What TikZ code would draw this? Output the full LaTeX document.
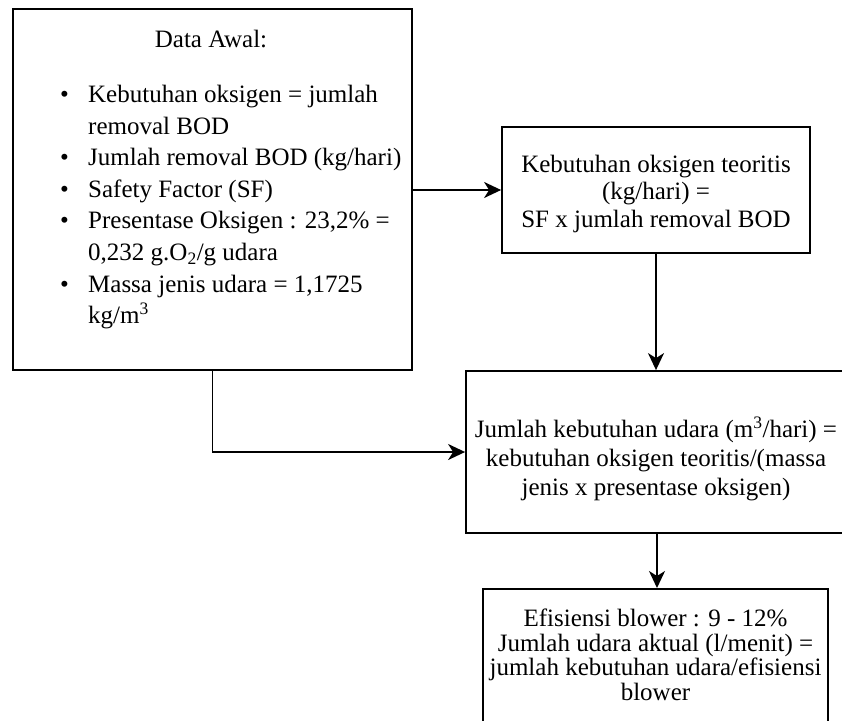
\documentclass[tikz,border=0pt]{standalone}
\usepackage{fontspec}
\setmainfont{Liberation Serif}
\usetikzlibrary{arrows.meta}

\newcommand{\butir}{\makebox[28pt][l]{\textbullet}}
\newcommand{\lanjut}{\hspace*{28pt}}

\tikzset{
  box/.style={draw, line width=1.8pt, inner sep=0pt},
  txt/.style={inner sep=0pt, align=center, font=\fontsize{25}{28}\selectfont},
  panah/.style={->, line width=1.8pt},
}

\begin{document}
\begin{tikzpicture}[line join=miter,>={Stealth[length=17pt,width=16pt,inset=5pt]},x=1pt,y=-1pt]
\useasboundingbox (0,0) rectangle (842,720);
\clip (0,0) rectangle (842,720);

% data awal
\node[box, minimum width=399pt, minimum height=361pt] (awal) at (212.5,189.5) {};
\node[txt, anchor=base] (awaljudul) at (211,47) {Data Awal:};
\node[txt, anchor=north west, align=left, font=\fontsize{25}{31.6}\selectfont] (awalisi) at (60,85)
  {\butir Kebutuhan oksigen = jumlah\\
   \lanjut removal BOD\\
   \butir Jumlah removal BOD (kg/hari)\\
   \butir Safety Factor (SF)\\
   \butir Presentase Oksigen : 23,2\% =\\
   \lanjut 0,232 g.O\textsubscript{2}/g udara\\
   \butir Massa jenis udara = 1,1725\\
   \lanjut kg/m\textsuperscript{3}};

% perhitungan
\node[box, minimum width=308pt, minimum height=126pt] (teoritis) at (656,190) {};
\node[txt, font=\fontsize{25}{27.5}\selectfont] (teoritisisi) at (656,193.5)
  {Kebutuhan oksigen teoritis\\(kg/hari) =\\SF x jumlah removal BOD};
\node[box, minimum width=382pt, minimum height=162pt] (udara) at (657,452) {};
\node[txt, font=\fontsize{25}{29}\selectfont] (udaraisi) at (656,459)
  {Jumlah kebutuhan udara (m\textsuperscript{3}/hari) =\\kebutuhan oksigen teoritis/(massa\\jenis x presentase oksigen)};
\node[box, minimum width=345pt, minimum height=150pt, anchor=north] (aktual) at (655.5,588) {};
\node[txt, anchor=north, font=\fontsize{25}{24.4}\selectfont] (aktualisi) at (655.5,609)
  {Efisiensi blower : 9 - 12\%\\Jumlah udara aktual (l/menit) =\\jumlah kebutuhan udara/efisiensi\\blower};

% panah
\draw[panah] (awal.east |- teoritis.west) -- (teoritis.west);
\draw[panah] (teoritis.south) -- (teoritis.south |- udara.north);
\draw[panah] (awal.south) |- (udara.west);
\draw[panah] (udara.south) -- (udara.south |- aktual.north);
\end{tikzpicture}
\end{document}
